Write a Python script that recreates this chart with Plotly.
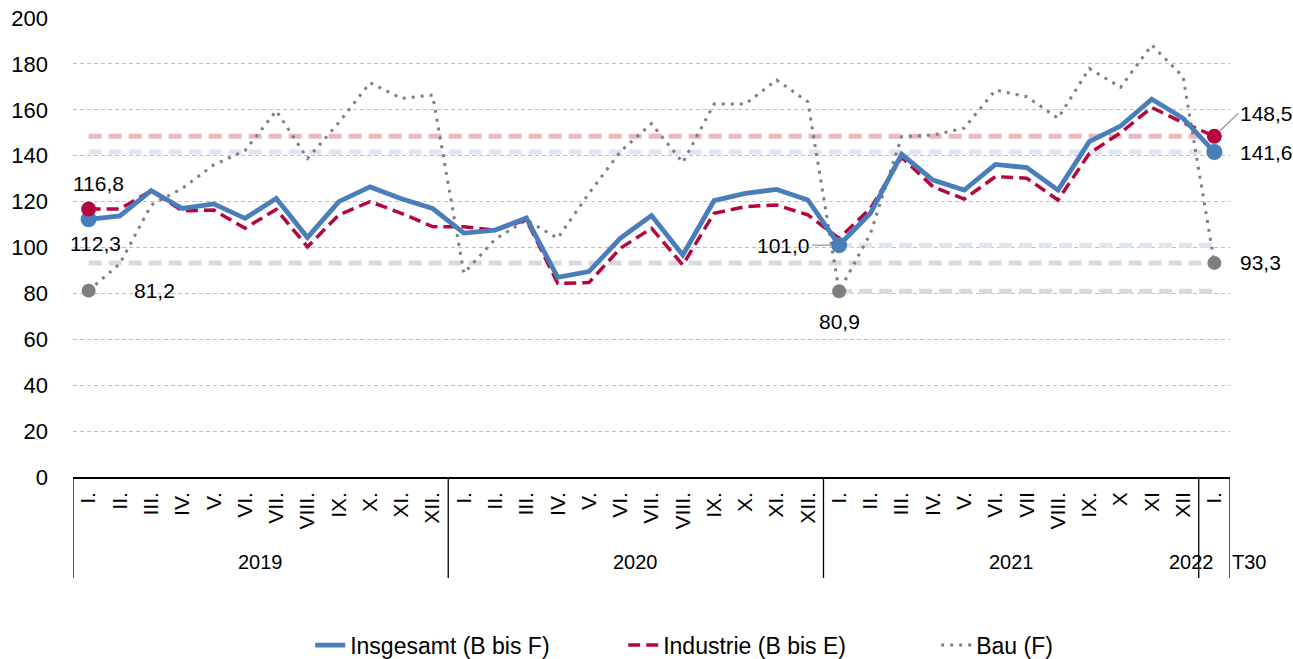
import plotly.graph_objects as go

years_groups = ["2019", "2020", "2021", "2022"]
months_2019 = ["I.", "II.", "III.", "IV.", "V.", "VI.", "VII.", "VIII.", "IX.", "X.", "XI.", "XII."]
months_2020 = ["I.", "II.", "III.", "IV.", "V.", "VI.", "VII.", "VIII.", "IX.", "X.", "XI.", "XII."]
months_2021 = ["I.", "II.", "III.", "IV.", "V.", "VI.", "VII", "VIII.", "IX.", "X", "XI", "XII"]
months_2022 = ["I."]
extra_label = "T30"

insgesamt = [112.3, 113.8, 124.8, 117.0, 119.0, 112.7, 121.4, 104.4, 120.0, 126.4, 121.2, 117.0,
             106.3, 107.6, 112.8, 87.0, 89.5, 104.0, 113.9, 96.7, 120.4, 123.6, 125.3, 120.7,
             101.0, 114.9, 140.6, 129.4, 125.0, 136.2, 134.8, 125.0, 146.1, 152.9, 164.6, 156.3,
             141.6]
industrie = [116.8, 116.8, 124.7, 116.0, 116.3, 108.4, 116.6, 100.3, 114.2, 120.0, 114.9, 109.1,
             109.0, 107.6, 112.0, 84.4, 84.7, 99.6, 108.4, 92.4, 114.9, 117.8, 118.5, 114.2,
             104.0, 117.0, 139.3, 126.5, 121.1, 130.9, 130.2, 120.7, 141.0, 150.0, 161.0, 154.4,
             148.5]
bau = [81.2, 93.0, 118.5, 125.8, 136.0, 142.2, 159.6, 138.8, 154.4, 171.8, 165.0, 166.4,
       88.8, 103.6, 112.0, 104.0, 123.6, 141.7, 154.0, 137.0, 162.5, 162.5, 173.0, 163.5,
       80.9, 106.0, 148.3, 149.0, 152.0, 168.6, 165.7, 156.3, 178.0, 169.8, 188.2, 174.4,
       93.3]

names = ["Insgesamt (B bis F)", "Industrie (B bis E)", "Bau (F)"]
y_ticks = [0, 20, 40, 60, 80, 100, 120, 140, 160, 180, 200]

BLUE = "#4a7ebb"
RED = "#b5073f"
GRAY = "#7f7f7f"
FONT = "Liberation Sans"

month_groups = [months_2019, months_2020, months_2021, months_2022]
x_month = [mm for m in month_groups for mm in m]
n = len(x_month)
x_idx = list(range(n))
first_2021 = len(months_2019) + len(months_2020)
last = n - 1

fig = go.Figure()


def ref_line(value, start, color):
    idx = x_idx[start:]
    fig.add_trace(go.Scatter(x=idx, y=[value] * len(idx), mode="lines",
                             line=dict(color=color, width=5, dash="13px,7px"),
                             showlegend=False, hoverinfo="skip"))


ref_line(industrie[-1], 0, "#e8b9bd")
ref_line(insgesamt[-1], 0, "#dde6f3")
ref_line(bau[-1], 0, "#dadada")
ref_line(insgesamt[first_2021], first_2021, "#dde6f3")
ref_line(bau[first_2021], first_2021, "#dadada")

fig.add_trace(go.Scatter(x=x_idx, y=bau, mode="lines", name=names[2],
                         line=dict(color=GRAY, width=3, dash="3px,6px")))
fig.add_trace(go.Scatter(x=x_idx, y=industrie, mode="lines", name=names[1],
                         line=dict(color=RED, width=3.5, dash="12px,6px")))
fig.add_trace(go.Scatter(x=x_idx, y=insgesamt, mode="lines", name=names[0],
                         line=dict(color=BLUE, width=4.8)))


def markers(series, idx, color, size=15):
    fig.add_trace(go.Scatter(x=idx, y=[series[i] for i in idx], mode="markers",
                             marker=dict(color=color, size=size), showlegend=False,
                             hoverinfo="skip"))


markers(bau, [0, first_2021, last], GRAY, 14)
markers(insgesamt, [0, first_2021, last], BLUE, 16)
markers(industrie, [0, last], RED, 15)


def fmt(v):
    return f"{v:.1f}".replace(".", ",")


ann_font = dict(family=FONT, size=21, color="#000000")
annots = [
    (0, industrie[0], 10, -25, "center"),
    (0, insgesamt[0], 7, 24, "center"),
    (0, bau[0], 66, 0, "center"),
    (first_2021, bau[first_2021], 0, 30, "center"),
    (last, bau[last], 24, 0, "left"),
    (last, insgesamt[last], 24, 0, "left"),
]
for xi, v, dx, dy, anchor in annots:
    fig.add_annotation(x=xi, y=v, xref="x", yref="y", text=fmt(v), showarrow=False,
                       xshift=dx, yshift=-dy, xanchor=anchor, font=ann_font)

fig.add_annotation(x=first_2021, y=insgesamt[first_2021], xref="x", yref="y",
                   text=fmt(insgesamt[first_2021]), showarrow=True, arrowhead=0,
                   arrowwidth=1.5, arrowcolor="#a6a6a6", ax=-27, ay=0,
                   xanchor="right", standoff=8, font=ann_font)
fig.add_annotation(x=last, y=industrie[last], xref="x", yref="y",
                   text=fmt(industrie[last]), showarrow=True, arrowhead=0,
                   arrowwidth=1.5, arrowcolor="#a6a6a6", ax=24, ay=-23,
                   xanchor="left", standoff=8, font=ann_font)

# group dividers and year labels below the month labels
div_bottom = -0.22
start = 0
bounds = [-0.5]
for gi, (yr, m) in enumerate(zip(years_groups, month_groups)):
    end = start + len(m)
    bounds.append(end - 0.5)
    narrow = len(m) == 1
    fig.add_annotation(x=(start + end - 1) / 2, y=-0.185, xref="x", yref="paper", text=yr,
                       showarrow=False, yanchor="middle", xshift=-23 if narrow else 0,
                       font=dict(family=FONT, size=20, color="#000000"))
    start = end
for b in bounds:
    fig.add_shape(type="line", xref="x", yref="paper", x0=b, x1=b, y0=0, y1=div_bottom,
                  line=dict(color="#000000", width=1.3))

fig.add_annotation(x=1, y=-0.185, xref="paper", yref="paper", text=extra_label,
                   showarrow=False, xanchor="left", yanchor="middle", xshift=0,
                   font=dict(family=FONT, size=20, color="#000000"))

fig.update_layout(
    width=1293, height=659,
    margin=dict(l=73, r=63, t=18, b=182),
    paper_bgcolor="white", plot_bgcolor="white",
    font=dict(family=FONT, size=20, color="#000000"),
    legend=dict(orientation="h", x=0.205, xanchor="left", xref="paper",
                yref="container", y=0.021, yanchor="middle",
                font=dict(family=FONT, size=23), traceorder="reversed",
                entrywidth=268),
    showlegend=True,
)
fig.update_yaxes(range=[0, 200], tickvals=y_ticks, showgrid=True, gridcolor="#bfbfbf",
                 gridwidth=1, griddash="4px,3px", zeroline=False, showline=False,
                 ticklabelstandoff=24, ticklabeloverflow="allow",
                 tickfont=dict(family=FONT, size=22), automargin=False)
fig.update_xaxes(range=[-0.5, n - 0.5], tickvals=x_idx, ticktext=x_month, showline=True,
                 linecolor="#000000", linewidth=1.5, showgrid=False, zeroline=False,
                 tickangle=-90, ticks="", ticklabelstandoff=5,
                 tickfont=dict(family=FONT, size=21), automargin=False)

fig.write_html("out.html", config={"displayModeBar": False},
               post_script="document.body.style.margin='0';document.body.style.overflow='hidden';")
